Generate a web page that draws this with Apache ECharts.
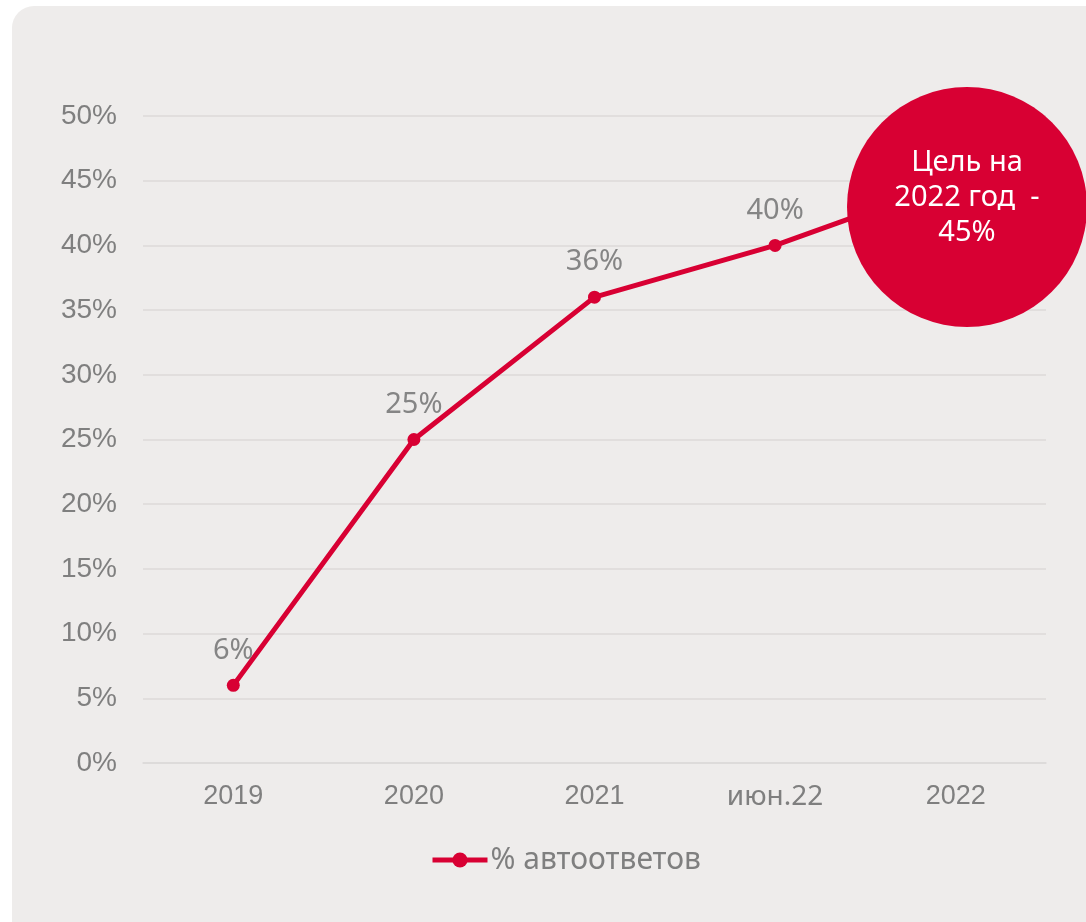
<!DOCTYPE html>
<html>
<head>
<meta charset="utf-8">
<script src="https://cdn.jsdelivr.net/npm/echarts@6/dist/echarts.min.js"></script>
<style>
html,body{margin:0;padding:0;background:#ffffff;width:1086px;height:922px;overflow:hidden;}
#card{position:absolute;left:12px;top:6px;width:1120px;height:960px;background:#eeeceb;border-radius:22px;}
#chart{position:absolute;left:0;top:0;width:1086px;height:922px;}
</style>
</head>
<body>
<div id="card"></div>
<div id="chart"></div>
<script>
var categories = ['2019', '2020', '2021', 'июн.22', '2022'];
var seriesName = '% автоответов';
var values = [6, 25, 36, 40, 45];
var yTicks = [0, 5, 10, 15, 20, 25, 30, 35, 40, 45, 50];
var targetText = 'Цель на\n2022 год  -\n45%';

var RED = '#d80033';
var GRAY = '#7f7f7f';

var chart = echarts.init(document.getElementById('chart'), null, {renderer: 'canvas'});
chart.setOption({
  backgroundColor: 'transparent',
  animation: false,
  grid: {left: 143, right: 40, top: 116, bottom: 159, containLabel: false},
  legend: {
    data: [seriesName],
    left: 425, top: 840,
    itemWidth: 55, itemHeight: 19, itemGap: 4,
    lineStyle: {width: 5},
    textStyle: {color: GRAY, fontSize: 30, fontFamily: 'Noto Sans', padding: [0, 0, 0, -2]}
  },
  xAxis: {
    type: 'category',
    data: categories,
    boundaryGap: true,
    axisLine: {show: true, lineStyle: {color: '#dcdad9', width: 1.5}},
    axisTick: {show: false},
    axisLabel: {
      color: GRAY, fontSize: 27, fontFamily: 'Liberation Sans', margin: 20,
      formatter: function (v) { return v === 'июн.22' ? '{m|' + v + '}' : v; },
      rich: {m: {color: GRAY, fontSize: 28, fontFamily: 'Noto Sans', padding: [0, 0, 3, 0]}}
    }
  },
  yAxis: {
    type: 'value',
    min: yTicks[0], max: yTicks[yTicks.length - 1], interval: 5,
    axisLine: {show: false},
    axisTick: {show: false},
    splitLine: {show: true, lineStyle: {color: '#dcdad9', width: 1.5}},
    axisLabel: {color: GRAY, fontSize: 28, fontFamily: 'Liberation Sans', margin: 26,
      formatter: '{value}%'}
  },
  series: [{
    name: seriesName,
    type: 'line',
    data: values,
    symbol: 'circle',
    symbolSize: 13,
    lineStyle: {color: RED, width: 5},
    itemStyle: {color: RED},
    label: {
      show: true, position: 'top', distance: 14,
      color: '#858585', fontSize: 29, fontFamily: 'Noto Sans',
      formatter: '{c}%'
    },
    z: 2
  }],
  graphic: [{
    type: 'group', zlevel: 5, z: 100,
    children: [{
      type: 'circle', zlevel: 5,
      shape: {cx: 967, cy: 207, r: 120},
      style: {fill: RED}
    }, {
      type: 'text', zlevel: 5, z: 101,
      x: 967, y: 198,
      style: {
        text: targetText,
        fill: '#ffffff', fontSize: 29, fontFamily: 'Noto Sans',
        lineHeight: 35, align: 'center', verticalAlign: 'middle'
      }
    }]
  }]
});
</script>
</body>
</html>
